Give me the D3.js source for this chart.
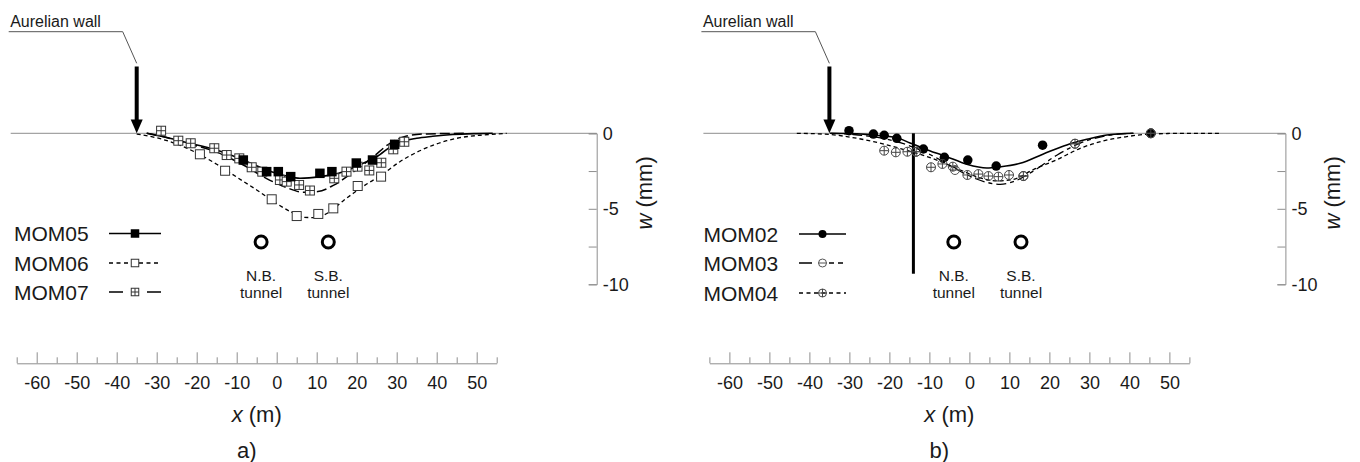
<!DOCTYPE html>
<html>
<head>
<meta charset="utf-8">
<script src="https://cdn.jsdelivr.net/npm/d3@7"></script>
<style>
  body { margin: 0; background: #fff; }
  svg { display: block; }
  text { font-family: "Liberation Sans", Arial, Helvetica, sans-serif; fill: #1a1a1a; }
</style>
</head>
<body>
<svg id="chart" width="1360" height="462"></svg>
<script>
// ---- axis ticks ----
const xTickValues = [-60, -50, -40, -30, -20, -10, 0, 10, 20, 30, 40, 50];
const xMinorTicks = [-65, -55, -45, -35, -25, -15, -5, 5, 15, 25, 35, 45, 55];
const wTickValues = [0, -5, -10];
const wMinorTicks = [-2.5, -7.5];

// ---- site features (x in m, w in mm) ----
const wallX = -35;
const tunnelX = [-3.9, 12.9];
const tunnelNames = ["N.B.", "S.B."];
const tunnelW = -7.2;
const shaftX = -14;

// ---- panel a: observed settlements ----
const mom05Obs = [[-8.35,-1.77],[-2.5,-2.54],[0.4,-2.54],[3.5,-2.87],[10.8,-2.65],[13.8,-2.54],[19.9,-1.97],[23.95,-1.77],[29.5,-0.73]];
const mom06Obs = [[-19.2,-1.39],[-12.9,-2.48],[-1.25,-4.37],[5,-5.48],[10.4,-5.34],[14.15,-4.97],[20.25,-3.49],[26.1,-2.87]];
const mom07Obs = [[-28.9,0.17],[-24.6,-0.49],[-21.5,-0.66],[-15.6,-0.99],[-12.5,-1.44],[-9.35,-1.66],[-6.25,-2.25],[-3.6,-2.54],[0.8,-3.09],[2.5,-3.2],[5.6,-3.42],[8.3,-3.79],[14.4,-2.98],[17.45,-2.54],[20.2,-2.21],[23.15,-2.46],[26.15,-1.95],[29.15,-1.06],[31.9,-0.56]];

// ---- panel a: fitted troughs ----
const mom05Fit = [[-32.5,0],[-28,-0.25],[-23.35,-0.56],[-15,-1.11],[-8.35,-1.77],[-2.5,-2.43],[2.5,-2.83],[5.8,-2.98],[10.8,-2.87],[16.65,-2.54],[20.8,-2.08],[25,-1.55],[29.15,-0.77],[35,-0.33],[39,-0.2],[44,-0.08],[50,-0.02],[54,0]];
const mom06Fit = [[-35,-0.05],[-30,-0.3],[-25,-0.7],[-20,-1.3],[-15,-2.05],[-10,-2.9],[-5,-3.75],[0,-4.65],[3.5,-5.2],[6.65,-5.56],[9,-5.58],[11.5,-5.45],[13.5,-5.15],[16.65,-4.46],[19.15,-3.97],[22.5,-3.36],[26.25,-2.76],[30.8,-1.88],[36.25,-1.1],[42.5,-0.49],[45.8,-0.29],[50.8,-0.13],[57.5,0]];
const mom07Fit = [[-32.5,0],[-28,-0.25],[-23.35,-0.6],[-15,-1.25],[-8.35,-2.1],[-2.5,-3.0],[2.5,-3.6],[6.6,-3.9],[10.3,-3.86],[14.15,-3.45],[15.8,-3.2],[17.1,-2.95],[20.4,-2.32],[24.15,-1.55],[28.3,-0.66],[32.5,-0.18],[37.5,-0.04],[47.5,0]];

// ---- panel b: observed settlements ----
const mom02Obs = [[-30.1,0.17],[-24,-0.05],[-21.3,-0.13],[-18.15,-0.33],[-11.5,-1.04],[-6.25,-1.59],[-0.4,-1.77],[6.7,-2.17],[18.3,-0.79],[45.35,0]];
const mom03Obs = [[-13.3,-1.22],[-3.6,-2.43],[13.5,-2.83],[26.4,-0.69],[45.35,0]];
const mom04Obs = [[-21.3,-1.15],[-18.4,-1.26],[-15.5,-1.22],[-13.3,-1.22],[-9.6,-2.25],[-6.75,-2.03],[-4.15,-2.21],[-0.5,-2.76],[2.25,-2.7],[4.75,-2.83],[7.25,-2.87],[9.9,-2.76],[13.5,-2.83],[26.4,-0.69],[45.35,0]];

// ---- panel b: fitted troughs ----
const mom02Fit = [[-34.8,0],[-28,-0.03],[-24.8,-0.1],[-21,-0.18],[-18.15,-0.3],[-15,-0.62],[-11.5,-1.0],[-5.65,-1.55],[-0.65,-2.05],[4.35,-2.3],[7.7,-2.22],[12.7,-1.99],[18.5,-1.37],[24.35,-0.77],[29.35,-0.4],[34.35,-0.11],[41,0]];
const mom03Fit = [[-34.8,0],[-29,-0.08],[-24.8,-0.2],[-17.3,-0.62],[-11.5,-1.2],[-5.65,-2.0],[-0.65,-2.75],[4.35,-3.25],[7.7,-3.38],[11,-3.2],[16,-2.5],[21.85,-1.45],[27.7,-0.65],[33.5,-0.2],[41,0]];
const mom04Fit = [[-43.15,0],[-34.8,-0.08],[-30.65,-0.22],[-24,-0.55],[-14.8,-1.2],[-8.15,-1.77],[-2.3,-2.43],[2.7,-2.95],[6.85,-3.15],[11,-3.05],[16,-2.4],[21.85,-1.75],[27.7,-1.0],[33.5,-0.5],[39.35,-0.22],[45.2,-0.05],[54.35,0],[63.1,0]];

const svg = d3.select("#chart");
const AXIS_GREY = "#8e8e8e";

// marker painters: (group, cx, cy, size, fill)
const markers = {
  filledSquare(g, cx, cy, s) {
    g.append("rect").attr("x", cx - s / 2).attr("y", cy - s / 2).attr("width", s).attr("height", s).attr("fill", "#000");
  },
  openSquare(g, cx, cy, s) {
    g.append("rect").attr("x", cx - s / 2).attr("y", cy - s / 2).attr("width", s).attr("height", s)
      .attr("fill", "#fff").attr("stroke", "#333").attr("stroke-width", 1);
  },
  crossSquare(g, cx, cy, s) {
    g.append("rect").attr("x", cx - s / 2).attr("y", cy - s / 2).attr("width", s).attr("height", s)
      .attr("fill", "#fff").attr("stroke", "#333").attr("stroke-width", 1);
    g.append("path").attr("d", `M${cx - s / 2},${cy}H${cx + s / 2}M${cx},${cy - s / 2}V${cy + s / 2}`)
      .attr("stroke", "#333").attr("stroke-width", 1);
  },
  filledCircle(g, cx, cy, s) {
    g.append("circle").attr("cx", cx).attr("cy", cy).attr("r", s / 2).attr("fill", "#000");
  },
  barCircle(g, cx, cy, s) {
    g.append("circle").attr("cx", cx).attr("cy", cy).attr("r", s / 2)
      .attr("fill", "none").attr("stroke", "#555").attr("stroke-width", 1);
    g.append("path").attr("d", `M${cx - s / 2},${cy}H${cx + s / 2}`).attr("stroke", "#555").attr("stroke-width", 1);
  },
  plusCircle(g, cx, cy, s) {
    g.append("circle").attr("cx", cx).attr("cy", cy).attr("r", s / 2)
      .attr("fill", "none").attr("stroke", "#444").attr("stroke-width", 1);
    g.append("path").attr("d", `M${cx - s / 2},${cy}H${cx + s / 2}M${cx},${cy - s / 2}V${cy + s / 2}`)
      .attr("stroke", "#444").attr("stroke-width", 1);
  }
};

const panels = [
  {
    label: "a)", dx: 0, wAxisAt: 80, shaft: false,
    legend: { textX: 14, x1: 109, x2: 161, rows: [233.5, 263, 292] },
    series: [
      { name: "MOM05", obs: mom05Obs, fit: mom05Fit, dash: null, width: 1.6, marker: "filledSquare", size: 9.5, legendSize: 8.5, legendDash: null },
      { name: "MOM06", obs: mom06Obs, fit: mom06Fit, dash: "4,3", width: 1.3, marker: "openSquare", size: 9, legendSize: 7.5, legendDash: "4,3.5" },
      { name: "MOM07", obs: mom07Obs, fit: mom07Fit, dash: "10,4", width: 1.5, marker: "crossSquare", size: 9, legendSize: 7.5, legendDash: "14,24,14" }
    ],
    markerOrder: [1, 2, 0]
  },
  {
    label: "b)", dx: 692.7, wAxisAt: 79, shaft: true,
    legend: { textX: 703.5, x1: 799, x2: 846, rows: [234, 263, 293] },
    series: [
      { name: "MOM02", obs: mom02Obs, fit: mom02Fit, dash: null, width: 1.6, marker: "filledCircle", size: 9.5, legendSize: 8, legendDash: null },
      { name: "MOM03", obs: mom03Obs, fit: mom03Fit, dash: "10,4,4,4", width: 1.3, marker: "barCircle", size: 9, legendSize: 8, legendDash: "13,17,5,4,5,10" },
      { name: "MOM04", obs: mom04Obs, fit: mom04Fit, dash: "4,3", width: 1.3, marker: "plusCircle", size: 9, legendSize: 8, legendDash: "4,3.5" }
    ],
    markerOrder: [0, 1, 2]
  }
];

panels.forEach(p => {
  const g = svg.append("g");
  const x = d3.scaleLinear().domain([-60, 50]).range([36.7 + p.dx, 476.7 + p.dx]);
  const y = d3.scaleLinear().domain([0, -10]).range([133.3, 284.3]);

  // zero-settlement baseline
  g.append("line")
    .attr("x1", x(-66.5)).attr("x2", x(p.wAxisAt))
    .attr("y1", y(0)).attr("y2", y(0))
    .attr("stroke", AXIS_GREY).attr("stroke-width", 1);

  // settlement axis on the right
  const wAxis = g.append("g").attr("transform", `translate(${x(p.wAxisAt)},0)`)
    .call(d3.axisRight(y).tickValues(wTickValues).tickSize(-8).tickSizeOuter(-8).tickPadding(6).tickFormat(d => String(d)));
  g.append("g").attr("transform", `translate(${x(p.wAxisAt)},0)`)
    .call(d3.axisRight(y).tickValues(wMinorTicks).tickSize(-8).tickFormat(""))
    .call(a => a.select(".domain").remove());
  g.selectAll(".tick line, .domain").attr("stroke", AXIS_GREY);
  wAxis.selectAll("text").attr("font-size", 18).attr("fill", "#1a1a1a")
    .attr("font-family", '"Liberation Sans", Arial, sans-serif');

  const wLab = g.append("text")
    .attr("transform", `translate(${x(p.wAxisAt) + 55},${(y(-2.3) + y(-5.6)) / 2}) rotate(-90)`)
    .attr("text-anchor", "middle").attr("font-size", 22);
  wLab.append("tspan").attr("font-style", "italic").text("w");
  wLab.append("tspan").text(" (mm)");

  // distance axis at the bottom
  const xAxisScale = x.copy().domain([-65, 55]).range([x(-65), x(55)]);
  const xAxis = g.append("g").attr("transform", "translate(0,363.3)")
    .call(d3.axisBottom(xAxisScale).tickValues(xTickValues).tickSize(-11).tickSizeOuter(0).tickPadding(13).tickFormat(d => String(d)));
  g.append("g").attr("transform", "translate(0,363.3)")
    .call(d3.axisBottom(xAxisScale).tickValues(xMinorTicks).tickSize(-6).tickFormat(""))
    .call(a => a.select(".domain").remove());
  g.selectAll(".tick line, .domain").attr("stroke", AXIS_GREY);
  xAxis.selectAll("text").attr("font-size", 18).attr("fill", "#1a1a1a")
    .attr("font-family", '"Liberation Sans", Arial, sans-serif');

  const xLab = g.append("text")
    .attr("x", x(-5)).attr("y", 422).attr("text-anchor", "middle").attr("font-size", 22);
  xLab.append("tspan").attr("font-style", "italic").text("x");
  xLab.append("tspan").text(" (m)");

  g.append("text").attr("x", x(-7.5)).attr("y", 458).attr("text-anchor", "middle")
    .attr("font-size", 22).text(p.label);

  // Aurelian wall marker
  const ax = x(wallX);
  g.append("path")
    .attr("d", `M${ax - 128},31.7H${ax - 14}L${ax},63.3`)
    .attr("fill", "none").attr("stroke", "#555").attr("stroke-width", 1);
  g.append("text").attr("x", ax - 126.5).attr("y", 26.5).attr("font-size", 16).text("Aurelian wall");
  g.append("line").attr("x1", ax).attr("x2", ax).attr("y1", 66.5).attr("y2", 122)
    .attr("stroke", "#000").attr("stroke-width", 4);
  g.append("path").attr("d", `M${ax - 6},119.5L${ax + 6},119.5L${ax},${y(0)}Z`).attr("fill", "#000");

  // shaft line (panel b)
  if (p.shaft) {
    g.append("line").attr("x1", x(shaftX)).attr("x2", x(shaftX)).attr("y1", y(0)).attr("y2", y(-9.3))
      .attr("stroke", "#000").attr("stroke-width", 3);
  }

  // tunnels
  tunnelX.forEach((tx, i) => {
    g.append("circle").attr("cx", x(tx)).attr("cy", y(tunnelW)).attr("r", 6)
      .attr("fill", "none").attr("stroke", "#000").attr("stroke-width", 3);
    g.append("text").attr("x", x(tx)).attr("y", y(tunnelW) + 38.5).attr("text-anchor", "middle")
      .attr("font-size", 15.5).text(tunnelNames[i]);
    g.append("text").attr("x", x(tx)).attr("y", y(tunnelW) + 55.5).attr("text-anchor", "middle")
      .attr("font-size", 15.5).text("tunnel");
  });

  // fitted curves
  const line = d3.line().x(d => x(d[0])).y(d => y(d[1])).curve(d3.curveMonotoneX);
  [1, 2, 0].forEach(i => {
    const s = p.series[i];
    g.append("path").datum(s.fit).attr("d", line)
      .attr("fill", "none").attr("stroke", "#000").attr("stroke-width", s.width)
      .attr("stroke-dasharray", s.dash);
  });

  // observed points
  p.markerOrder.forEach(i => {
    const s = p.series[i];
    const mg = g.append("g");
    s.obs.forEach(d => markers[s.marker](mg, x(d[0]), y(d[1]), s.size));
  });

  // legend
  p.series.forEach((s, i) => {
    const ly = p.legend.rows[i];
    g.append("text").attr("x", p.legend.textX).attr("y", ly + 7.5).attr("font-size", 21).text(s.name);
    g.append("line").attr("x1", p.legend.x1).attr("x2", p.legend.x2).attr("y1", ly).attr("y2", ly)
      .attr("stroke", "#000").attr("stroke-width", s.width)
      .attr("stroke-dasharray", s.legendDash);
    const lg = g.append("g");
    markers[s.marker](lg, (p.legend.x1 + p.legend.x2) / 2, ly, s.legendSize);
  });
});
</script>
</body>
</html>
